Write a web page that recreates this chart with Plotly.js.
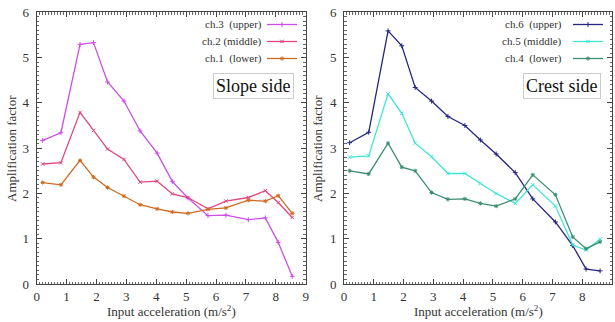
<!DOCTYPE html>
<html>
<head>
<meta charset="utf-8">
<script src="https://cdn.plot.ly/plotly-3.0.1.min.js"></script>
<style>html,body{margin:0;padding:0;background:#fff;}#chart{width:615px;height:322px;}</style>
</head>
<body>
<div id="chart"></div>
<script>
// ---- data ----
const xSlope = [0.2, 0.81, 1.45, 1.9, 2.37, 2.92, 3.46, 4.03, 4.54, 5.06, 5.73, 6.33, 7.08, 7.65, 8.08, 8.55];
const ch3 = [3.17, 3.34, 5.29, 5.33, 4.46, 4.04, 3.38, 2.89, 2.26, 1.90, 1.51, 1.52, 1.42, 1.46, 0.92, 0.17];
const ch2 = [2.65, 2.68, 3.79, 3.39, 2.98, 2.75, 2.25, 2.27, 1.99, 1.91, 1.66, 1.83, 1.91, 2.06, 1.80, 1.47];
const ch1 = [2.24, 2.19, 2.73, 2.36, 2.13, 1.94, 1.75, 1.66, 1.59, 1.56, 1.65, 1.68, 1.85, 1.83, 1.95, 1.56];

const xCrest = [0.19, 0.83, 1.48, 1.94, 2.39, 2.94, 3.49, 4.06, 4.58, 5.11, 5.75, 6.34, 7.1, 7.68, 8.13, 8.6];
const ch6 = [3.12, 3.35, 5.59, 5.26, 4.34, 4.04, 3.70, 3.50, 3.18, 2.87, 2.46, 1.88, 1.37, 0.85, 0.33, 0.29];
const ch5 = [2.80, 2.83, 4.20, 3.77, 3.11, 2.81, 2.44, 2.44, 2.22, 2.00, 1.78, 2.19, 1.72, 0.86, 0.75, 0.99];
const ch4 = [2.50, 2.43, 3.11, 2.58, 2.50, 2.02, 1.87, 1.88, 1.78, 1.72, 1.88, 2.41, 1.97, 1.04, 0.78, 0.93];

const seriesNames = ['ch.3  (upper)', 'ch.2 (middle)', 'ch.1  (lower)', 'ch.6  (upper)', 'ch.5 (middle)', 'ch.4  (lower)'];
const panelLabels = ['Slope side', 'Crest side'];
const xTitle = 'Input acceleration (m/s<sup>2</sup>)';
const yTitle = 'Amplification factor';
const xTicks = [0, 1, 2, 3, 4, 5, 6, 7, 8, 9];
const yTicks = [0, 1, 2, 3, 4, 5, 6];

// ---- styling ----
const W = 615, H = 322;
const px = v => v / W;
const py = v => 1 - v / H;
const FONT = "'Liberation Serif', 'Times New Roman', serif";
const colors = ['#cc4ee6', '#e0467f', '#cf6a22', '#262680', '#3fe6d6', '#3a8f6f'];
const symbols = ['cross-thin-open', 'x-thin-open', 'asterisk-open', 'cross-thin-open', 'x-thin-open', 'asterisk-open'];

const groups = [
  {x: xSlope, ys: [ch3, ch2, ch1], xa: 'x', ya: 'y'},
  {x: xCrest, ys: [ch6, ch5, ch4], xa: 'x2', ya: 'y2'}
];

const traces = [];
let k = 0;
groups.forEach(g => {
  g.ys.forEach(y => {
    traces.push({
      type: 'scatter', mode: 'lines+markers', x: g.x, y: y,
      xaxis: g.xa, yaxis: g.ya, name: seriesNames[k], showlegend: false,
      line: {color: colors[k], width: 1.3},
      marker: {symbol: symbols[k], size: 3.5, color: colors[k], line: {color: colors[k], width: 1}}
    });
    k++;
  });
});

// legend samples (symbols only; the texts are annotations to their left)
const legendRowsY = [24.5, 41.5, 58.5];
const legendX = [262, 568];
const legends = {};
for (let i = 0; i < 6; i++) {
  const lname = i === 0 ? 'legend' : 'legend' + (i + 1);
  traces.push({
    type: 'scatter', mode: 'lines+markers', x: [null], y: [null],
    xaxis: i < 3 ? 'x' : 'x2', yaxis: i < 3 ? 'y' : 'y2',
    name: ' ', legend: lname, showlegend: true, hoverinfo: 'skip',
    line: {color: colors[i], width: 1.3},
    marker: {symbol: symbols[i], size: 3.5, color: colors[i], line: {color: colors[i], width: 1}}
  });
  legends[lname] = {
    x: px(legendX[Math.floor(i / 3)]), xanchor: 'left',
    y: py(legendRowsY[i % 3]), yanchor: 'middle',
    bgcolor: 'rgba(0,0,0,0)', borderwidth: 0, font: {size: 6, family: FONT},
    itemwidth: 30
  };
}

const axisCommon = {
  showgrid: false, zeroline: false, showline: true, linecolor: '#444', linewidth: 1,
  mirror: 'allticks', ticks: 'inside', ticklen: 5, tickcolor: '#444', tickwidth: 1,
  tickfont: {family: FONT, size: 13, color: '#333'},
  minor: {ticks: 'inside', ticklen: 2.5, dtick: 0.1, tickcolor: '#666', tickwidth: 1, showgrid: false},
  fixedrange: true
};
const xa = Object.assign({}, axisCommon, {range: [0, 9], tickvals: xTicks, ticklabelstandoff: 0});
const ya = Object.assign({}, axisCommon, {range: [0, 6], tickvals: yTicks, ticklabelstandoff: 4});

const yDom = [1 - 284 / H, 1 - 12.3 / H];
const layout = Object.assign({
  width: W, height: H,
  margin: {l: 0, r: 0, t: 0, b: 0},
  paper_bgcolor: '#fff', plot_bgcolor: '#fff',
  font: {family: FONT, color: '#333'},
  xaxis: Object.assign({}, xa, {domain: [px(36.7), px(305.7)], anchor: 'y'}),
  yaxis: Object.assign({}, ya, {domain: yDom, anchor: 'x'}),
  xaxis2: Object.assign({}, xa, {domain: [px(344), px(612)], anchor: 'y2'}),
  yaxis2: Object.assign({}, ya, {domain: yDom, anchor: 'x2'}),
  annotations: []
}, legends);

const ann = layout.annotations;
// axis titles
[171, 478].forEach(xx => {
  ann.push({xref: 'paper', yref: 'paper', x: px(xx), y: py(311), text: xTitle, showarrow: false,
    font: {family: FONT, size: 13, color: '#333'}, xanchor: 'center', yanchor: 'middle'});
});
[12, 318].forEach(xx => {
  ann.push({xref: 'paper', yref: 'paper', x: px(xx), y: py(149), text: yTitle, showarrow: false,
    textangle: -90, font: {family: FONT, size: 13, color: '#333'}, xanchor: 'center', yanchor: 'middle'});
});
// legend texts
const legTextRight = [264, 564];
for (let i = 0; i < 6; i++) {
  ann.push({xref: 'paper', yref: 'paper', x: px(legTextRight[Math.floor(i / 3)]), y: py(legendRowsY[i % 3]),
    text: seriesNames[i], showarrow: false, xanchor: 'right', yanchor: 'middle',
    font: {family: FONT, size: 11, color: '#333'}});
}
// panel labels
[[253, 86], [562, 86]].forEach((p, i) => {
  ann.push({xref: 'paper', yref: 'paper', x: px(p[0]), y: py(p[1]), text: panelLabels[i], showarrow: false,
    xanchor: 'center', yanchor: 'middle', font: {family: FONT, size: 18, color: '#111'},
    bordercolor: '#cccccc', borderwidth: 1, borderpad: 2, bgcolor: '#fff'});
});

Plotly.newPlot('chart', traces, layout, {staticPlot: true, displayModeBar: false});
</script>
</body>
</html>
